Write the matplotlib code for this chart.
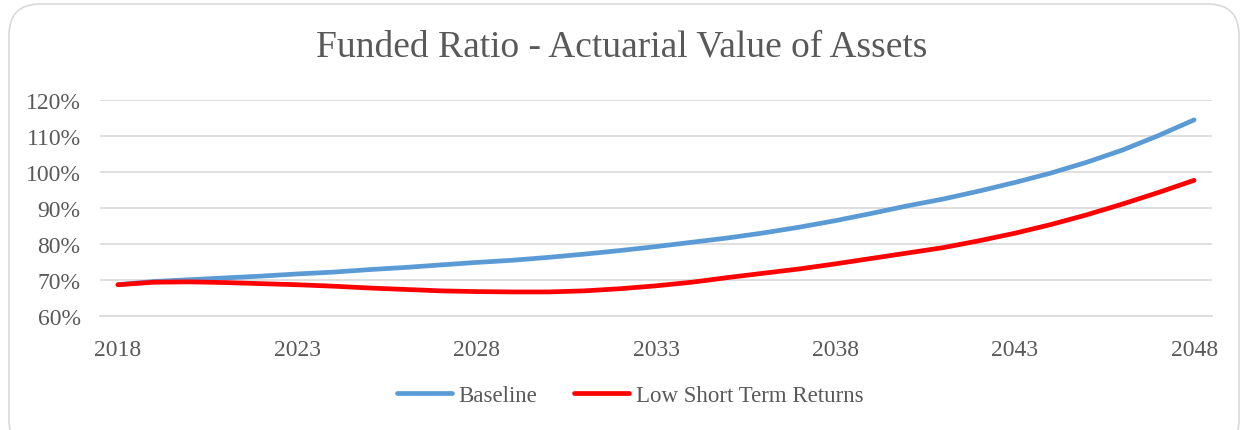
import matplotlib.pyplot as plt
from matplotlib.patches import FancyBboxPatch
from matplotlib.ticker import FuncFormatter

years = list(range(2018, 2049))
baseline = [68.6, 69.5, 70.0, 70.5, 71.0, 71.6, 72.1, 72.8, 73.4, 74.1,
            74.8, 75.4, 76.2, 77.1, 78.1, 79.2, 80.4, 81.6, 83.0, 84.6,
            86.4, 88.4, 90.5, 92.4, 94.6, 97.0, 99.6, 102.6, 106.0, 110.0, 114.4]
low_returns = [68.6, 69.3, 69.4, 69.2, 68.9, 68.6, 68.2, 67.7, 67.3, 66.9,
               66.7, 66.6, 66.6, 66.9, 67.5, 68.3, 69.3, 70.6, 71.8, 73.0,
               74.4, 75.9, 77.4, 78.9, 80.8, 82.9, 85.3, 88.0, 91.0, 94.2, 97.6]
xticks = [2018, 2023, 2028, 2033, 2038, 2043, 2048]

plt.rcParams['font.family'] = ['Liberation Serif', 'DejaVu Serif']
grey = '#595959'

fig = plt.figure(figsize=(12.44, 4.31), dpi=100)

# rounded chart border
border = FancyBboxPatch((9 / 1244, -0.05), 1230 / 1244, 1.0 - 5 / 431 + 0.05,
                        boxstyle='round,pad=0,rounding_size=0.025',
                        transform=fig.transFigure, facecolor='none',
                        edgecolor='#d9d9d9', linewidth=1.2, zorder=-1,
                        mutation_aspect=1244 / 431)
fig.patches.append(border)

ax = fig.add_axes([100 / 1244, 1 - 316.7 / 431, 1112 / 1244, 216 / 431])
ax.patch.set_alpha(0)

ax.plot(years, baseline, color='#5b9bd5', lw=3.4, solid_capstyle='round',
        solid_joinstyle='round', label='Baseline', zorder=3)
ax.plot(years, low_returns, color='#ff0000', lw=3.4, solid_capstyle='round',
        solid_joinstyle='round', label='Low Short Term Returns', zorder=3)

ax.set_xlim(2017.5, 2048.5)
ax.set_ylim(60, 120)
ax.set_yticks(range(60, 121, 10))
ax.set_xticks(xticks)
ax.yaxis.set_major_formatter(FuncFormatter(lambda v, p: f'{v:.0f}%'))
ax.grid(axis='y', color='#d9d9d9', lw=1.2)
ax.set_axisbelow(True)
for s in ['top', 'right', 'left']:
    ax.spines[s].set_visible(False)
ax.spines['bottom'].set_color('#d9d9d9')
ax.spines['bottom'].set_linewidth(1.2)
ax.tick_params(axis='both', length=0, labelsize=17, labelcolor=grey)
ax.tick_params(axis='y', pad=14)
ax.tick_params(axis='x', pad=17)

fig.text(0.5, 1 - 47 / 431, 'Funded Ratio - Actuarial Value of Assets',
         ha='center', va='center', fontsize=27, color=grey)

fig.legend(loc='center', bbox_to_anchor=(630 / 1244, 1 - 396 / 431), ncol=2,
           frameon=False, fontsize=16.5, labelcolor=grey, handlelength=2.4,
           handletextpad=0.3, columnspacing=1.6)

fig.savefig('out.png', dpi=100)
